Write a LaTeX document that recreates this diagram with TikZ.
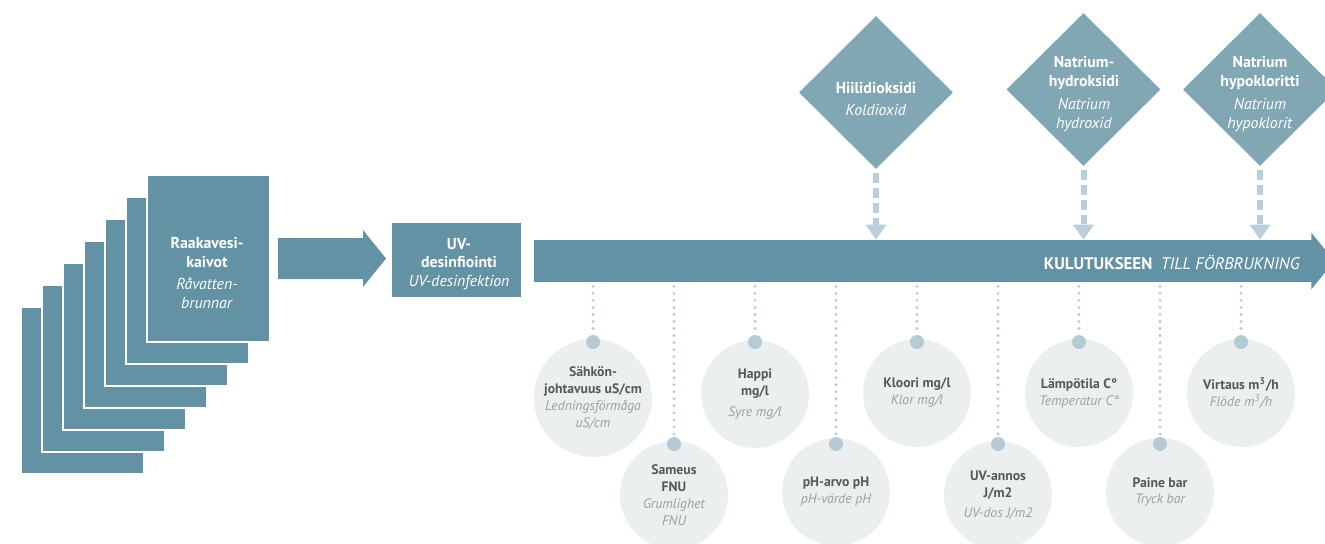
\documentclass[tikz,border=0pt]{standalone}
\usepackage{fontspec}
\setmainfont{PT Sans}
\usepackage{xcolor}
\definecolor{wellblue}{HTML}{6392A4}
\definecolor{chemblue}{HTML}{81A6B4}
\definecolor{feedblue}{HTML}{BACFD8}
\definecolor{dotblue}{HTML}{B6CAD5}
\definecolor{sensgrey}{HTML}{ECEFEF}
\definecolor{txtdark}{HTML}{55595B}
\definecolor{txtlight}{HTML}{9AA0A2}
\usepackage{tikz}
\usetikzlibrary{shapes.geometric}
\usetikzlibrary{arrows.meta}
\usetikzlibrary{positioning}
\newcommand{\lite}[1]{\textcolor{txtlight}{\mdseries\itshape #1}}

\begin{document}
\begin{tikzpicture}[x=0.02cm,y=-0.02cm,
    page/.style={fill=wellblue,draw=white,line width=1.2pt,inner sep=0pt,
      minimum width=2.46cm,minimum height=3.34cm},
    boxtxt/.style={text=white,align=center,font=\fontsize{9}{10.6}\selectfont},
    chem/.style={diamond,fill=chemblue,inner sep=0pt,minimum width=3.08cm,minimum height=3.06cm},
    sens/.style={circle,fill=sensgrey,inner sep=0pt,minimum size=2.16cm,align=center,
      text=txtdark,font=\fontsize{7.8}{9.6}\selectfont\bfseries},
    dot/.style={circle,fill=dotblue,inner sep=0pt,minimum size=0.28cm},
    probe/.style={dotblue,line width=1.8pt,line cap=round,dash pattern=on 0pt off 4pt},
    feed/.style={feedblue,line width=3.4pt,dash pattern=on 5.6pt off 2.8pt,
      -{Triangle[width=0.4cm,length=0.3cm]}}]
  \useasboundingbox (0,0) rectangle (1325,544);

  % raw water wells
  \node[page](p6) at (82.5,390.5) {};
  \node[page](p5) at (103.5,368.5) {};
  \node[page](p4) at (124.5,346.5) {};
  \node[page](p3) at (145.5,324.5) {};
  \node[page](p2) at (166.5,302.5) {};
  \node[page](p1) at (187.5,280.5) {};
  \node[page](wells) at (208.5,258.5) {};
  \node[boxtxt](wellstxt) at (207,273) {\textbf{Raakavesi-}\\\textbf{kaivot}\\[2pt]\textit{Råvatten-}\\\textit{brunnar}};

  \fill[wellblue] (278,238) -- (363,238) -- (363,230) -- (386,258.5) -- (363,287) -- (363,279) -- (278,279) -- cycle;

  % uv
  \node[fill=wellblue,minimum width=2.58cm,minimum height=1.48cm,inner sep=0pt](uv) at (456.5,260) {};
  \node[boxtxt](uvtxt) at (459,264) {\textbf{UV-}\\\textbf{desinfiointi}\\\textit{UV-desinfektion}};

  % main line
  \node[fill=wellblue,minimum width=15.56cm,minimum height=0.84cm,inner sep=0pt](main) at (923,261) {};
  \fill[wellblue] ([xshift=-0.02cm,yshift=0.14cm]main.north east) -- ([xshift=0.44cm]main.east)
    -- ([xshift=-0.02cm,yshift=-0.14cm]main.south east) -- cycle;
  \node[boxtxt,anchor=east,font=\fontsize{9.6}{12}\selectfont](maintxt) at ([xshift=-0.12cm,yshift=-0.04cm]main.east)
    {\textbf{KULUTUKSEEN}\enspace\textit{TILL FÖRBRUKNING}};

  % chemicals
  \node[chem](co2) at (876,92.5) {};
  \node[chem](naoh) at (1083.5,89.5) {};
  \node[chem](naocl) at (1260,89.5) {};
  \node[boxtxt](co2txt) at (876,99) {\textbf{Hiilidioksidi}\\[2pt]\textit{Koldioxid}};
  \node[boxtxt](naohtxt) at (1084,94) {\textbf{Natrium-}\\\textbf{hydroksidi}\\[3pt]\textit{Natrium}\\\textit{hydroxid}};
  \node[boxtxt](naocltxt) at (1260,94) {\textbf{Natrium}\\\textbf{hypokloritti}\\[3pt]\textit{Natrium}\\\textit{hypoklorit}};
  \draw[feed,shorten <=0.08cm] (co2.south) -- (co2 |- main.north);
  \draw[feed,shorten <=0.08cm] (naoh.south) -- (naoh |- main.north);
  \draw[feed,shorten <=0.08cm] (naocl.south) -- (naocl |- main.north);

  % measurements
  \node[sens,minimum size=2.36cm](c1) at (593,398) {Sähkön-\\johtavuus uS/cm\\\lite{Ledningsförmåga}\\\lite{uS/cm}};
  \node[sens](c2) at (674,495) {Sameus\\FNU\\\lite{Grumlighet}\\\lite{FNU}};
  \node[sens](c3) at (755,394) {Happi\\mg/l\\[2pt]\lite{Syre mg/l}};
  \node[sens](c4) at (836,492) {pH-arvo pH\\\lite{pH-värde pH}};
  \node[sens](c5) at (917,393) {Kloori mg/l\\\lite{Klor mg/l}};
  \node[sens](c6) at (998,495) {UV-annos\\J/m2\\[2pt]\lite{UV-dos J/m2}};
  \node[sens](c7) at (1079,393) {Lämpötila C°\\\lite{Temperatur C°}};
  \node[sens](c8) at (1160,492) {Paine bar\\\lite{Tryck bar}};
  \node[sens](c9) at (1241,393) {Virtaus m\textsuperscript{3}/h\\\lite{Flöde m\textsuperscript{3}/h}};

  \node[dot](d1) at (593,342) {};
  \node[dot](d2) at (674,444) {};
  \node[dot](d3) at (755,342) {};
  \node[dot](d4) at (836,444) {};
  \node[dot](d5) at (917,342) {};
  \node[dot](d6) at (998,444) {};
  \node[dot](d7) at (1079,342) {};
  \node[dot](d8) at (1160,444) {};
  \node[dot](d9) at (1241,342) {};
  \draw[probe] ([yshift=-0.08cm]d1 |- main.south) -- (d1.north);
  \draw[probe] ([yshift=-0.08cm]d2 |- main.south) -- (d2.north);
  \draw[probe] ([yshift=-0.08cm]d3 |- main.south) -- (d3.north);
  \draw[probe] ([yshift=-0.08cm]d4 |- main.south) -- (d4.north);
  \draw[probe] ([yshift=-0.08cm]d5 |- main.south) -- (d5.north);
  \draw[probe] ([yshift=-0.08cm]d6 |- main.south) -- (d6.north);
  \draw[probe] ([yshift=-0.08cm]d7 |- main.south) -- (d7.north);
  \draw[probe] ([yshift=-0.08cm]d8 |- main.south) -- (d8.north);
  \draw[probe] ([yshift=-0.08cm]d9 |- main.south) -- (d9.north);
\end{tikzpicture}
\end{document}
